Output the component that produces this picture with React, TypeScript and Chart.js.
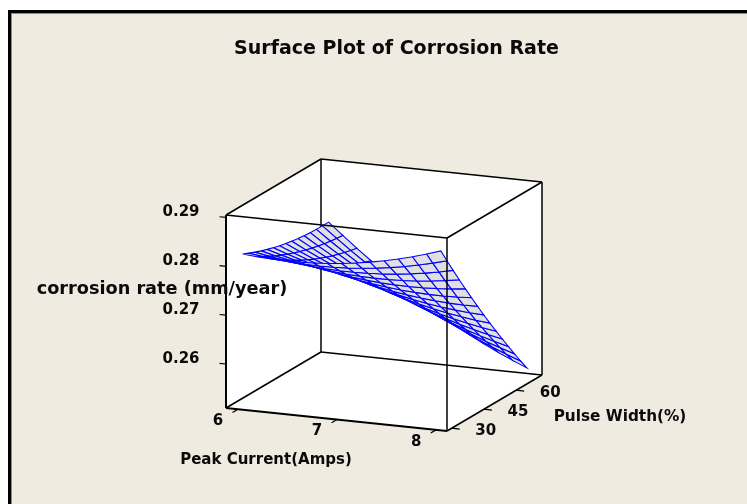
import React, { useEffect, useRef } from "react";
import { Chart, registerables } from "chart.js";

Chart.register(...registerables);

const chartTitle = "Surface Plot of Corrosion Rate";
const zTitle = "corrosion rate (mm/year)";
const xTitle = "Peak Current(Amps)";
const yTitle = "Pulse Width(%)";

const peakCurrent = [6, 6.143, 6.286, 6.429, 6.571, 6.714, 6.857, 7, 7.143, 7.286, 7.429, 7.571, 7.714, 7.857, 8];
const pulseWidth = [30, 32.86, 35.71, 38.57, 41.43, 44.29, 47.14, 50, 52.86, 55.71, 58.57, 61.43, 64.29, 67.14, 70];

// corrosion rate: one row per peak current, one column per pulse width
const corrosionRate = [
  [0.2822, 0.28163, 0.2811, 0.28062, 0.28018, 0.27979, 0.27945, 0.27915, 0.2789, 0.27869, 0.27853, 0.27842, 0.27835, 0.27833, 0.27835],
  [0.28195, 0.28122, 0.28054, 0.2799, 0.27931, 0.27876, 0.27827, 0.27781, 0.2774, 0.27704, 0.27673, 0.27646, 0.27623, 0.27606, 0.27593],
  [0.28179, 0.28091, 0.28007, 0.27928, 0.27853, 0.27783, 0.27717, 0.27656, 0.276, 0.27549, 0.27501, 0.27459, 0.27421, 0.27388, 0.27359],
  [0.28172, 0.28068, 0.27969, 0.27874, 0.27784, 0.27698, 0.27617, 0.27541, 0.27469, 0.27402, 0.27339, 0.27281, 0.27228, 0.27179, 0.27135],
  [0.28175, 0.28055, 0.2794, 0.2783, 0.27724, 0.27623, 0.27527, 0.27435, 0.27347, 0.27265, 0.27186, 0.27113, 0.27044, 0.2698, 0.2692],
  [0.28187, 0.28051, 0.27921, 0.27795, 0.27674, 0.27557, 0.27445, 0.27338, 0.27235, 0.27136, 0.27043, 0.26954, 0.26869, 0.26789, 0.26714],
  [0.28207, 0.28057, 0.27911, 0.27769, 0.27632, 0.275, 0.27373, 0.2725, 0.27131, 0.27017, 0.26908, 0.26803, 0.26703, 0.26608, 0.26517],
  [0.28237, 0.28071, 0.2791, 0.27753, 0.276, 0.27453, 0.2731, 0.27171, 0.27037, 0.26908, 0.26783, 0.26663, 0.26547, 0.26436, 0.2633],
  [0.28277, 0.28095, 0.27918, 0.27745, 0.27577, 0.27414, 0.27255, 0.27101, 0.26952, 0.26807, 0.26667, 0.26531, 0.264, 0.26273, 0.26151],
  [0.28325, 0.28128, 0.27935, 0.27747, 0.27564, 0.27385, 0.27211, 0.27041, 0.26876, 0.26716, 0.2656, 0.26408, 0.26262, 0.2612, 0.25982],
  [0.28383, 0.2817, 0.27962, 0.27758, 0.27559, 0.27365, 0.27175, 0.2699, 0.26809, 0.26633, 0.26462, 0.26295, 0.26133, 0.25975, 0.25822],
  [0.2845, 0.28221, 0.27998, 0.27778, 0.27564, 0.27354, 0.27149, 0.26948, 0.26752, 0.2656, 0.26373, 0.26191, 0.26013, 0.2584, 0.25671],
  [0.28526, 0.28282, 0.28043, 0.27808, 0.27578, 0.27352, 0.27132, 0.26915, 0.26704, 0.26496, 0.26294, 0.26096, 0.25903, 0.25714, 0.2553],
  [0.28611, 0.28351, 0.28097, 0.27846, 0.27601, 0.2736, 0.27124, 0.26892, 0.26664, 0.26442, 0.26224, 0.26011, 0.25802, 0.25597, 0.25398],
  [0.28705, 0.2843, 0.2816, 0.27894, 0.27633, 0.27376, 0.27125, 0.26877, 0.26634, 0.26396, 0.26163, 0.25934, 0.25709, 0.25489, 0.25274],
];

const xTicks = [6, 7, 8];
const yTicks = [30, 45, 60];
const zTicks = [0.26, 0.27, 0.28, 0.29];

const xRange = [5.88, 8.11];
const yRange = [27.8, 72];
const zRange = [0.251, 0.2905];

// Oblique view of the box, as seen in the picture
const view = { ox: 226, oy: 408, xx: 221, xy: 23, yx: 95, yy: -56, zy: -193 };

const project = (px: number, pw: number, z: number) => {
  const fx = (px - xRange[0]) / (xRange[1] - xRange[0]);
  const fy = (pw - yRange[0]) / (yRange[1] - yRange[0]);
  const fz = (z - zRange[0]) / (zRange[1] - zRange[0]);
  return {
    x: view.ox + view.xx * fx + view.yx * fy,
    y: view.oy + view.xy * fx + view.yy * fy + view.zy * fz,
  };
};

const BLACK = "#000000";
const BLUE = "#0000ff";
const GREY = "#e0e0e0";
const INK = "#0a0a0a";
const FONT = '"DejaVu Sans"';

const line = (data: { x: number; y: number }[], color: string, width: number, fillColor?: string) => ({
  data,
  showLine: true,
  borderColor: color,
  borderWidth: width,
  backgroundColor: fillColor ?? "transparent",
  fill: fillColor ? "shape" : false,
  pointRadius: 0,
  pointHoverRadius: 0,
  tension: 0,
  borderJoinStyle: "miter",
  borderCapStyle: "butt",
});

const [x0, x1] = xRange;
const [y0, y1] = yRange;
const [z0, z1] = zRange;

const edge = (a: number[], b: number[], width = 1.5) =>
  line([project(a[0], a[1], a[2]), project(b[0], b[1], b[2])], BLACK, width);

const buildDatasets = () => {
  const list: any[] = [];
  // white walls of the box
  const hull = [
    [x0, y0, z1], [x0, y1, z1], [x1, y1, z1], [x1, y1, z0], [x1, y0, z0], [x0, y0, z0], [x0, y0, z1],
  ].map((p) => project(p[0], p[1], p[2]));
  list.push(line(hull, "#ffffff", 0, "#ffffff"));

  // rear edges, hidden by the surface
  list.push(edge([x0, y1, z0], [x0, y1, z1]));
  list.push(edge([x0, y1, z0], [x0, y0, z0]));
  list.push(edge([x0, y1, z0], [x1, y1, z0]));

  // surface cells, far to near
  for (let i = 0; i < peakCurrent.length - 1; i++) {
    for (let j = pulseWidth.length - 2; j >= 0; j--) {
      const cell = [
        project(peakCurrent[i], pulseWidth[j], corrosionRate[i][j]),
        project(peakCurrent[i + 1], pulseWidth[j], corrosionRate[i + 1][j]),
        project(peakCurrent[i + 1], pulseWidth[j + 1], corrosionRate[i + 1][j + 1]),
        project(peakCurrent[i], pulseWidth[j + 1], corrosionRate[i][j + 1]),
        project(peakCurrent[i], pulseWidth[j], corrosionRate[i][j]),
      ];
      list.push(line(cell, BLUE, 1.1, GREY));
    }
  }

  // outer and front edges
  list.push(edge([x0, y0, z0], [x0, y0, z1], 2));
  list.push(edge([x0, y0, z1], [x1, y0, z1]));
  list.push(edge([x0, y0, z1], [x0, y1, z1]));
  list.push(edge([x0, y1, z1], [x1, y1, z1]));
  list.push(edge([x1, y0, z1], [x1, y1, z1]));
  list.push(edge([x1, y1, z1], [x1, y1, z0]));
  list.push(edge([x1, y0, z1], [x1, y0, z0]));
  list.push(edge([x0, y0, z0], [x1, y0, z0], 2));
  list.push(edge([x1, y0, z0], [x1, y1, z0]));

  // tick stubs
  zTicks.forEach((t) => list.push(edge([x0 - 0.065, y0, t], [x0, y0, t], 1.2)));
  xTicks.forEach((t) => list.push(edge([t, y0 - 2.5, z0], [t, y0, z0], 1.2)));
  yTicks.forEach((t) => list.push(edge([x1, t, z0], [x1 + 0.08, t, z0], 1.2)));

  const total = list.length;
  return list.map((d, idx) => ({ ...d, order: total - idx }));
};

const labelsPlugin = {
  id: "surfaceLabels",
  afterDraw(chart: any) {
    const { ctx, scales } = chart;
    const put = (text: string, x: number, y: number, size: number) => {
      ctx.font = `bold ${size}px ${FONT}`;
      ctx.fillText(text, scales.x.getPixelForValue(x), scales.y.getPixelForValue(y));
    };
    ctx.save();
    ctx.fillStyle = INK;
    ctx.textAlign = "center";
    ctx.textBaseline = "middle";
    zTicks.forEach((t) => {
      const p = project(x0, y0, t);
      put(t.toFixed(2), p.x - 45, p.y - 5, 15);
    });
    xTicks.forEach((t) => {
      const p = project(t, y0, z0);
      put(String(t), p.x - 20, p.y + 12, 15);
    });
    yTicks.forEach((t) => {
      const p = project(x1, t, z0);
      put(String(t), p.x + 34, p.y + 3, 15);
    });
    put(zTitle, 162, 289, 17.7);
    put(xTitle, 266, 460, 15);
    put(yTitle, 620, 417, 15.3);
    ctx.restore();
  },
};

export default function App() {
  const ref = useRef<HTMLCanvasElement>(null);
  useEffect(() => {
    if (!ref.current) return;
    const chart = new Chart(ref.current, {
      type: "scatter",
      data: { datasets: buildDatasets() as any },
      options: {
        animation: false,
        responsive: false,
        events: [],
        layout: { padding: { left: 46 } },
        scales: {
          x: { type: "linear", display: false, min: 46, max: 747 },
          y: { type: "linear", display: false, min: 60.4, max: 504, reverse: true },
        },
        plugins: {
          legend: { display: false },
          tooltip: { enabled: false },
          title: {
            display: true,
            text: chartTitle,
            color: INK,
            font: { family: FONT, size: 19, weight: "bold" },
            padding: { top: 37.6, bottom: 0 },
          },
        },
      } as any,
      plugins: [labelsPlugin],
    });
    return () => chart.destroy();
  }, []);
  return (
    <div style={{ position: "fixed", left: 0, top: 0, width: 747, height: 504, overflow: "hidden", background: "#ffffff" }}>
      <div
        style={{
          position: "absolute",
          left: 8,
          top: 10,
          width: 739,
          height: 494,
          boxSizing: "border-box",
          background: "#efebe0",
          borderLeft: "3px solid #000",
          borderTop: "3px solid #000",
          boxShadow: "inset 1px 1px 0 #8a8a86",
        }}
      />
      <canvas ref={ref} width={747} height={504} style={{ position: "absolute", left: 0, top: 0, display: "block" }} />
    </div>
  );
}
